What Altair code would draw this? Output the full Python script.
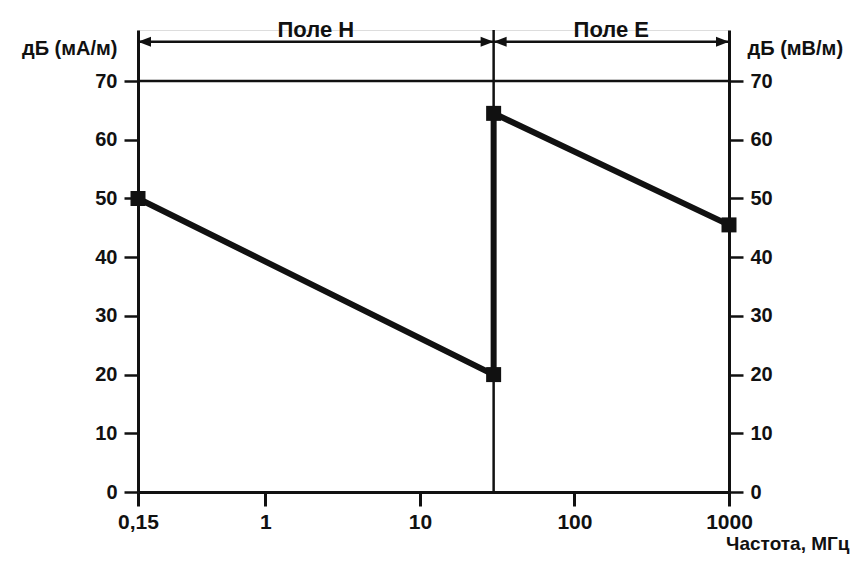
import altair as alt
import pandas as pd

# data
freq = [0.15, 30, 30, 1000]
level = [50, 20, 64.5, 45.5]
x_ticks = [0.15, 1, 10, 100, 1000]
y_ticks = [0, 10, 20, 30, 40, 50, 60, 70]
band_names = ["Поле Н", "Поле Е"]
band_start = [0.15, 30]
band_end = [30, 1000]
split_freq = 30
ref_level = 70

X_DOM = [0.15, 1000]
Y_DOM = [0, 78.7]
ARROW_Y = 76.7
FONT = "Liberation Sans"
INK = "#111111"
FW = "bold"

line_df = pd.DataFrame({"f": freq, "v": level, "i": list(range(len(freq)))})
band_df = pd.DataFrame({"f": band_start, "f2": band_end, "v": [ARROW_Y] * 2})
label_df = pd.DataFrame({
    "f": [(a * b) ** 0.5 for a, b in zip(band_start, band_end)],
    "v": [Y_DOM[1]] * 2,
    "t": band_names,
})
arrow_r = pd.DataFrame({"f": band_end, "v": [ARROW_Y] * 2})
arrow_l = pd.DataFrame({"f": band_start, "v": [ARROW_Y] * 2})
split_df = pd.DataFrame({"f": [split_freq], "v": [Y_DOM[0]], "v2": [Y_DOM[1]]})
ref_df = pd.DataFrame({"f": [X_DOM[0]], "f2": [X_DOM[1]], "v": [ref_level]})

xscale = alt.Scale(type="log", domain=X_DOM, nice=False)
yscale = alt.Scale(domain=Y_DOM, nice=False, zero=False)

x_axis = alt.Axis(
    values=x_ticks,
    labelExpr="datum.value < 1 ? '0,15' : format(datum.value, 'd')",
    labelFlush=False, labelOverlap=False,
    grid=False, domainColor=INK, domainWidth=3, tickColor=INK, tickWidth=3,
    tickSize=14, labelPadding=5, labelFont=FONT, labelFontSize=21,
    labelFontWeight=FW, labelColor=INK,
    title="Частота, МГц", titleFont=FONT, titleFontSize=19,
    titleFontWeight=FW, titleColor=INK,
    titleX=711, titleY=51, titleAlign="right", titleBaseline="middle",
)


def yaxis(orient, title, tx, align):
    return alt.Axis(
        orient=orient, values=y_ticks, grid=False,
        domainColor=INK, domainWidth=3, tickColor=INK, tickWidth=2.5,
        tickSize=14, labelPadding=7, labelFont=FONT, labelFontSize=20,
        labelFontWeight=FW, labelColor=INK, labelBound=False,
        labelOverlap=False,
        title=title, titleFont=FONT, titleFontSize=20,
        titleFontWeight=FW, titleColor=INK, titleAngle=0,
        titleX=tx, titleY=18, titleAlign=align, titleBaseline="middle",
    )


def X(field="f"):
    return alt.X(f"{field}:Q", scale=xscale, axis=x_axis)


def Y(axis=None, field="v"):
    return alt.Y(f"{field}:Q", scale=yscale, axis=axis)


line = alt.Chart(line_df).mark_line(color=INK, strokeWidth=6).encode(
    x=X(), y=Y(yaxis("left", "дБ (мА/м)", -21, "right")), order="i:O"
)
pts = alt.Chart(line_df).mark_point(
    shape="square", filled=True, size=225, color=INK, opacity=1
).encode(x=X(), y=Y())

ref = alt.Chart(ref_df).mark_rule(color=INK, strokeWidth=2.5).encode(
    x=X(), x2="f2:Q", y=Y(yaxis("right", "дБ (мВ/м)", 18, "left"))
)
split = alt.Chart(split_df).mark_rule(color=INK, strokeWidth=2.5).encode(
    x=X(), y=Y(), y2="v2:Q"
)
bands = alt.Chart(band_df).mark_rule(color=INK, strokeWidth=2.5).encode(
    x=X(), x2="f2:Q", y=Y()
)
ar = alt.Chart(arrow_r).mark_point(
    shape="M0,0L-1,-0.38L-1,0.38Z", filled=True, size=676, color=INK, opacity=1
).encode(x=X(), y=Y())
al = alt.Chart(arrow_l).mark_point(
    shape="M0,0L1,-0.38L1,0.38Z", filled=True, size=676, color=INK, opacity=1
).encode(x=X(), y=Y())
labels = alt.Chart(label_df).mark_text(
    font=FONT, fontSize=22, fontWeight=FW, color=INK, baseline="middle",
    align="center"
).encode(x=X(), y=Y(), text="t:N")

chart = alt.layer(
    line, ref, split, bands, ar, al, labels, pts
).resolve_scale(y="independent").properties(
    width=591, height=462,
    autosize=alt.AutoSizeParams(type="none"),
    padding={"left": 130, "top": 22, "right": 121, "bottom": 63},
).configure_view(strokeWidth=0).configure(background="white")

chart.save("out.html", embed_options={"renderer": "svg", "actions": False})
